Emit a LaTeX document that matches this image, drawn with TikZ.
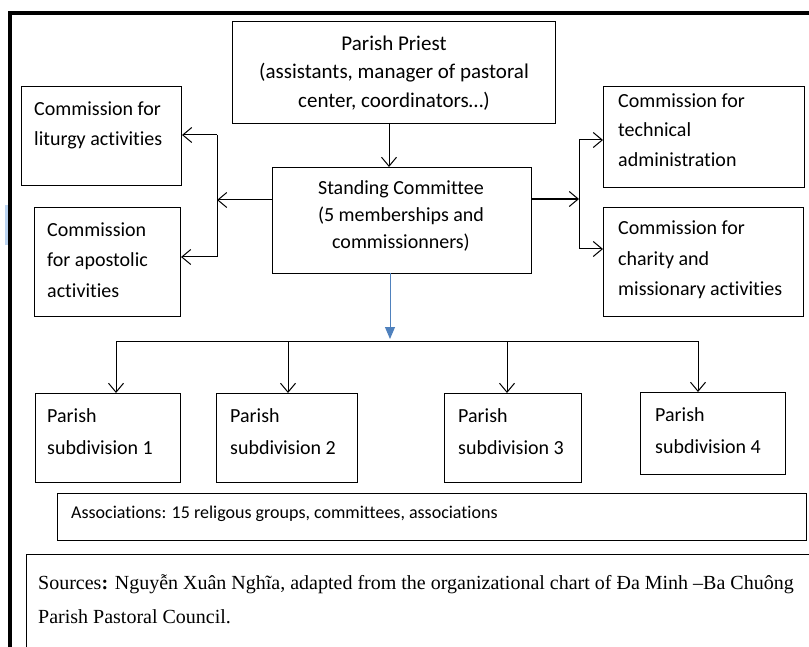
\documentclass[tikz,border=0pt]{standalone}
\usepackage{fontspec}
\setmainfont{Carlito}[Ligatures=CommonOff]
\newfontfamily\srcfont{Liberation Serif}
\usetikzlibrary{arrows.meta}
\definecolor{blueline}{HTML}{4F81BD}
\definecolor{selblue}{HTML}{BCD5F2}
\tikzset{
  box/.style={draw, line width=1pt, inner sep=0pt, anchor=north west},
  txt/.style={inner sep=0pt, font=\fontsize{20}{28}\selectfont},
  conn/.style={line width=1pt},
  vtip/.style={-{Straight Barb[length=9pt,width=15pt,line width=1pt]}},
}
\newcommand{\bx}[5]{\node[box, minimum width=#4-#2, minimum height=#5-#3] (#1) at (#2,#3) {};}
\begin{document}
\begin{tikzpicture}[x=1pt,y=-1pt]
\useasboundingbox (0,0) rectangle (809,647);
% selection marker and outer frame
\fill[selblue] (5,205) rectangle (12,245);
\draw[line width=4pt] (10,649) -- (10,13) -- (811,13);
% boxes
\bx{priest}{232}{21}{555}{123}
\bx{lit}{21}{86}{181}{185}
\bx{apo}{34}{207}{180}{316}
\bx{stand}{272}{167}{531}{273}
\bx{tech}{603}{86}{804}{187}
\bx{char}{603}{207}{803}{316}
\bx{sa}{35}{393}{180}{482}
\bx{sb}{216}{393}{357}{482}
\bx{sc}{444}{393}{581}{482}
\bx{sd}{640}{392}{785}{474}
\bx{assoc}{57}{493}{806}{540}
\bx{src}{26}{554}{812}{650}
% texts
\node[txt, align=center, font=\fontsize{21}{28.5}\selectfont] (tpriest) at (394,73) {Parish Priest\\(assistants, manager of pastoral\\center, coordinators\ldots)};
\node[txt, align=left, anchor=west, font=\fontsize{20}{30}\selectfont] (tlit) at (34,125) {Commission for\\liturgy activities};
\node[txt, align=left, anchor=west, font=\fontsize{20}{30.5}\selectfont] (tapo) at (47,260) {Commission\\for apostolic\\activities};
\node[txt, align=center, font=\fontsize{20}{27}\selectfont] (tstand) at (401,216) {Standing Committee\\(5 memberships and\\commissionners)};
\node[txt, align=left, anchor=west, font=\fontsize{20}{29.5}\selectfont] (ttech) at (618,130) {Commission for\\technical\\administration};
\node[txt, align=left, anchor=west, font=\fontsize{20}{30.5}\selectfont] (tchar) at (618,260) {Commission for\\charity and\\missionary activities};
\node[txt, align=left, anchor=west, font=\fontsize{20}{32}\selectfont] (tsa) at (47,432) {Parish\\subdivision 1};
\node[txt, align=left, anchor=west, font=\fontsize{20}{32}\selectfont] (tsb) at (230,432) {Parish\\subdivision 2};
\node[txt, align=left, anchor=west, font=\fontsize{20}{32}\selectfont] (tsc) at (458,432) {Parish\\subdivision 3};
\node[txt, align=left, anchor=west, font=\fontsize{20}{32}\selectfont] (tsd) at (655,431) {Parish\\subdivision 4};
\node[txt, anchor=west, font=\fontsize{18}{20}\selectfont] (tassoc) at (71,514) {Associations: 15 religous groups, committees, associations};
\node[txt, align=left, anchor=west, font=\srcfont\fontsize{20}{34}\selectfont] (tsrc) at (38,599) {Sources\textbf{:} Nguyễn Xuân Nghĩa, adapted from the organizational chart of Đa Minh –Ba Chuông\\Parish Pastoral Council.};
% connectors
\coordinate (lj) at (217,200);
\coordinate (rj) at (579,199);
\draw[conn, vtip] (389,123) -- (stand.north -| 389,0);
\draw[conn, vtip] (stand.west |- lj) -- (lj);
\draw[conn] (217,135) -- (217,257);
\draw[conn, vtip] (217,135) -- (lit.east |- 0,135);
\draw[conn, vtip] (217,257) -- (apo.east |- 0,257);
\draw[line width=1.5pt, vtip] (stand.east |- rj) -- (rj);
\draw[conn] (579,140) -- (579,249);
\draw[conn, vtip] (579,140) -- (tech.west |- 0,140);
\draw[conn, vtip] (579,249) -- (char.west |- 0,249);
\draw[line width=1pt, blueline, -{Triangle[length=12pt,width=10pt]}] (390,273) -- (390,339);
\draw[conn] (116,341) -- (698,341);
\draw[conn, vtip] (116,341) -- (sa.north -| 116,0);
\draw[conn, vtip] (288,341) -- (sb.north -| 288,0);
\draw[conn, vtip] (507,341) -- (sc.north -| 507,0);
\draw[conn, vtip] (698,341) -- (sd.north -| 698,0);
\end{tikzpicture}
\end{document}
